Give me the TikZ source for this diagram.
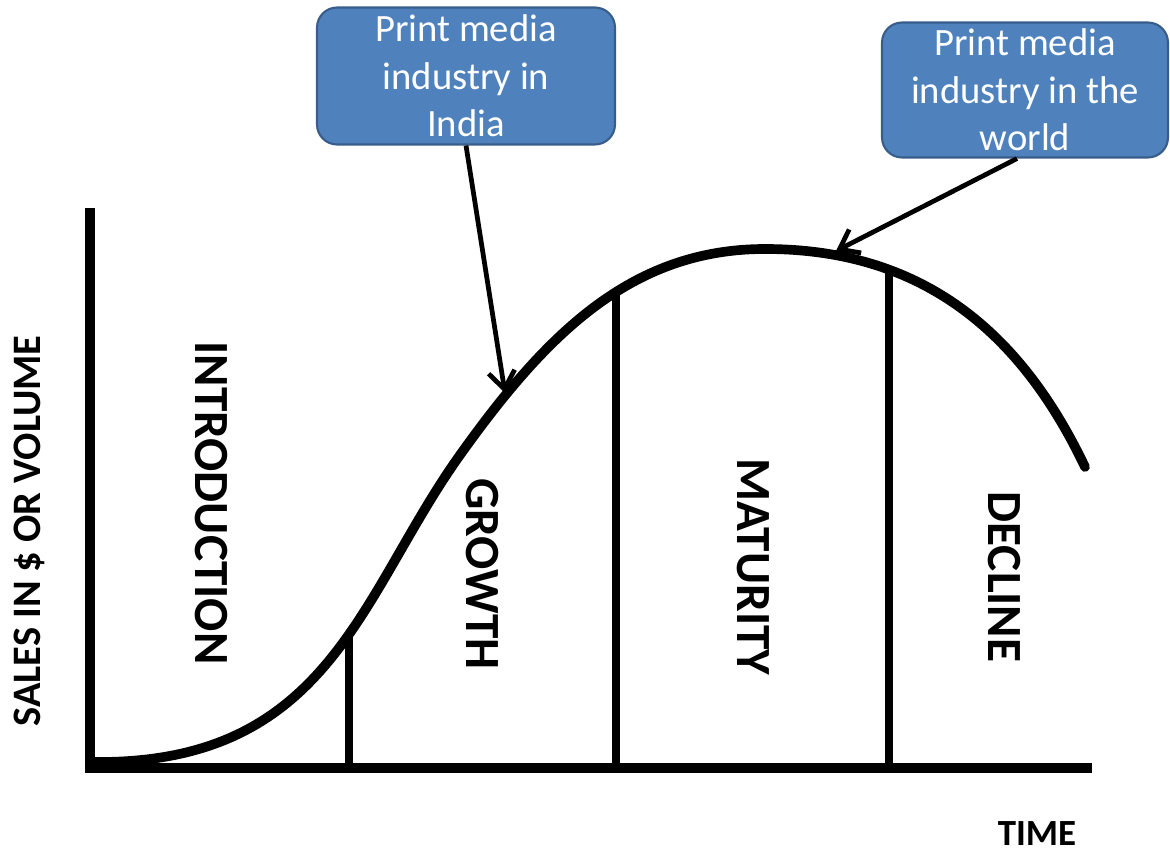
\documentclass[tikz,border=0pt]{standalone}
\usepackage{fontspec}
\setmainfont{Carlito}
\usepackage{tikz}
\usetikzlibrary{arrows.meta}
\usepackage{xcolor}
\definecolor{boxfill}{HTML}{4F81BD}
\definecolor{boxline}{HTML}{385D8A}

\tikzset{
  infobox/.style={draw=boxline, line width=1.2pt, fill=boxfill, rounded corners=0.4cm,
    text=white, align=center, inner sep=0pt, font={\fontsize{22}{27}\selectfont}},
  stage/.style={rotate=-90, font={\fontsize{28}{30}\selectfont\bfseries}},
  pointer/.style={line width=2.7pt, -{Straight Barb[length=10pt,width=15pt]}}
}

\begin{document}
\begin{tikzpicture}[x=0.02cm,y=-0.02cm]
  \useasboundingbox (0,0) rectangle (1170,854);
  % axes
  \draw[line width=5.7pt] (90,208) -- (90,768) -- (1092,768);
  \node[rotate=90, font={\fontsize{23}{25}\selectfont\bfseries}] (sales) at (29,531) {SALES IN \$ OR VOLUME};
  \node[font={\fontsize{21}{23}\selectfont\bfseries}] (time) at (1037,834) {TIME};
  % stage borders
  \draw[line width=4.5pt] (349,632) -- (349,768);
  \draw[line width=4.5pt] (616,293) -- (616,768);
  \draw[line width=4.5pt] (889,269) -- (889,768);
  % life cycle
  \draw[line width=5.5pt, line cap=round] (95,762)
    .. controls (330,764) and (360,595) .. (460,455)
    .. controls (545,336) and (630,249) .. (765,249)
    .. controls (915,249) and (1017,324) .. (1085,467);
  \node[stage] (intro) at (211,503) {INTRODUCTION};
  \node[stage] (growth) at (482,574) {GROWTH};
  \node[stage] (maturity) at (753,567) {MATURITY};
  \node[stage] (decline) at (1004,577) {DECLINE};
  % call-outs
  \node[infobox, minimum width=5.96cm, minimum height=2.74cm] (india) at (466,76) {Print media\\industry in\\India};
  \node[infobox, minimum width=5.72cm, minimum height=2.7cm] (world) at (1025,90) {Print media\\industry in the\\world};
  \coordinate (onindia) at (505,393);
  \coordinate (onworld) at (836,251);
  \draw[pointer] (india.south) -- (onindia);
  \draw[pointer] ([xshift=-0.16cm]world.south) -- (onworld);
\end{tikzpicture}
\end{document}
